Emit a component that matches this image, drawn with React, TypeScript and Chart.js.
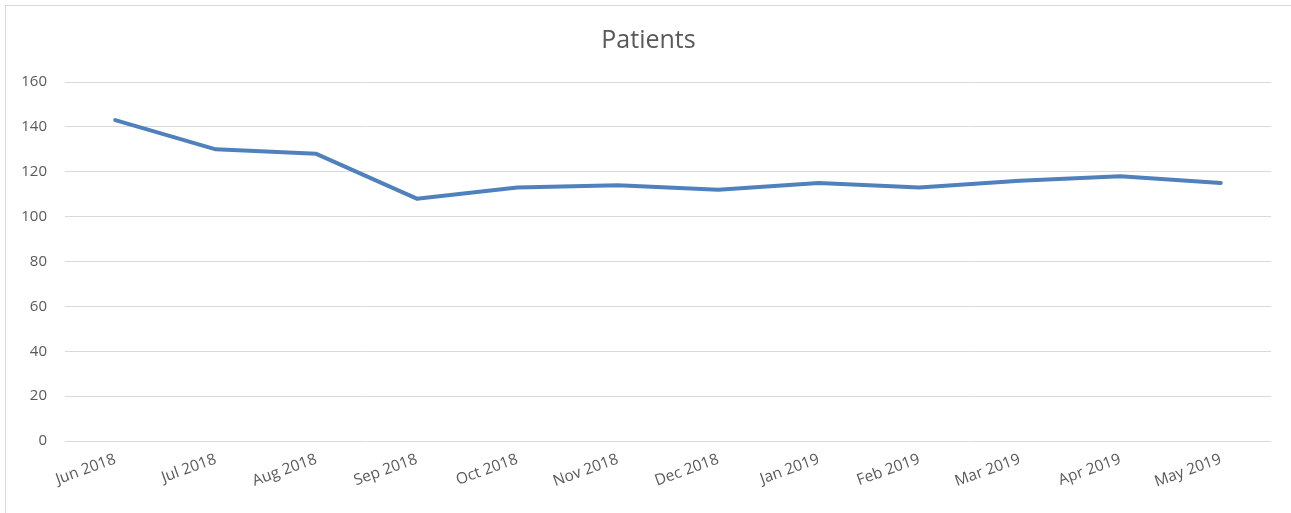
import React, { useEffect, useRef } from "react";
import { Chart, registerables } from "chart.js";

Chart.register(...registerables);

const categories = [
  "Jun 2018", "Jul 2018", "Aug 2018", "Sep 2018", "Oct 2018", "Nov 2018",
  "Dec 2018", "Jan 2019", "Feb 2019", "Mar 2019", "Apr 2019", "May 2019",
];
const patients = [143, 130, 128, 108, 113, 114, 112, 115, 113, 116, 118, 115];
const yTicks = [0, 20, 40, 60, 80, 100, 120, 140, 160];

const FONT = "'Open Sans', 'Liberation Sans', sans-serif";
const TEXT = "#595959";

export default function App() {
  const ref = useRef<HTMLCanvasElement | null>(null);
  useEffect(() => {
    document.body.style.margin = "0";
    const ctx = ref.current!;
    const chart = new Chart(ctx, {
      type: "line",
      data: {
        labels: categories,
        datasets: [
          {
            label: "Patients",
            data: patients,
            yAxisID: "y",
            borderColor: "#4f81bd",
            backgroundColor: "#4f81bd",
            borderWidth: 4,
            pointRadius: 0,
            tension: 0,
            borderJoinStyle: "round",
            borderCapStyle: "round",
          },
        ],
      },
      options: {
        animation: false,
        responsive: false,
        layout: { padding: 0 },
        plugins: {
          legend: { display: false },
          tooltip: { enabled: false },
          title: {
            display: true,
            text: "Patients",
            color: TEXT,
            font: { family: FONT, size: 25, weight: "normal" },
            padding: { top: 20, bottom: 26 },
          },
        },
        scales: {
          x: {
            offset: true,
            grid: { display: false, drawTicks: false },
            border: { display: false },
            ticks: {
              color: TEXT,
              font: { family: FONT, size: 15.5 },
              minRotation: 20,
              maxRotation: 20,
              padding: 9,
              autoSkip: false,
            },
            afterFit: (s: any) => {
              s.height = 72;
            },
          },
          y: {
            min: 0,
            max: 160,
            afterBuildTicks: (s: any) => {
              s.ticks = yTicks.map((v) => ({ value: v }));
            },
            grid: { color: "#d9d9d9", lineWidth: 1, drawTicks: false },
            border: { display: false },
            ticks: {
              color: TEXT,
              font: { family: FONT, size: 15 },
              padding: 18,
            },
            afterFit: (s: any) => {
              s.width = 59;
            },
          },
          yRight: {
            type: "linear",
            position: "right",
            display: true,
            min: 0,
            max: 160,
            grid: { display: false, drawTicks: false },
            border: { display: false },
            ticks: { display: false },
            afterFit: (s: any) => {
              s.width = 20;
            },
          },
        },
      },
    });
    return () => chart.destroy();
  }, []);
  return (
    <div
      style={{
        position: "absolute",
        left: 5,
        top: 5,
        width: 1286,
        height: 508,
        borderLeft: "1px solid #d9d9d9",
        borderTop: "1px solid #d9d9d9",
        background: "#fff",
      }}
    >
      <canvas ref={ref} width={1285} height={507} style={{ display: "block" }} />
    </div>
  );
}
